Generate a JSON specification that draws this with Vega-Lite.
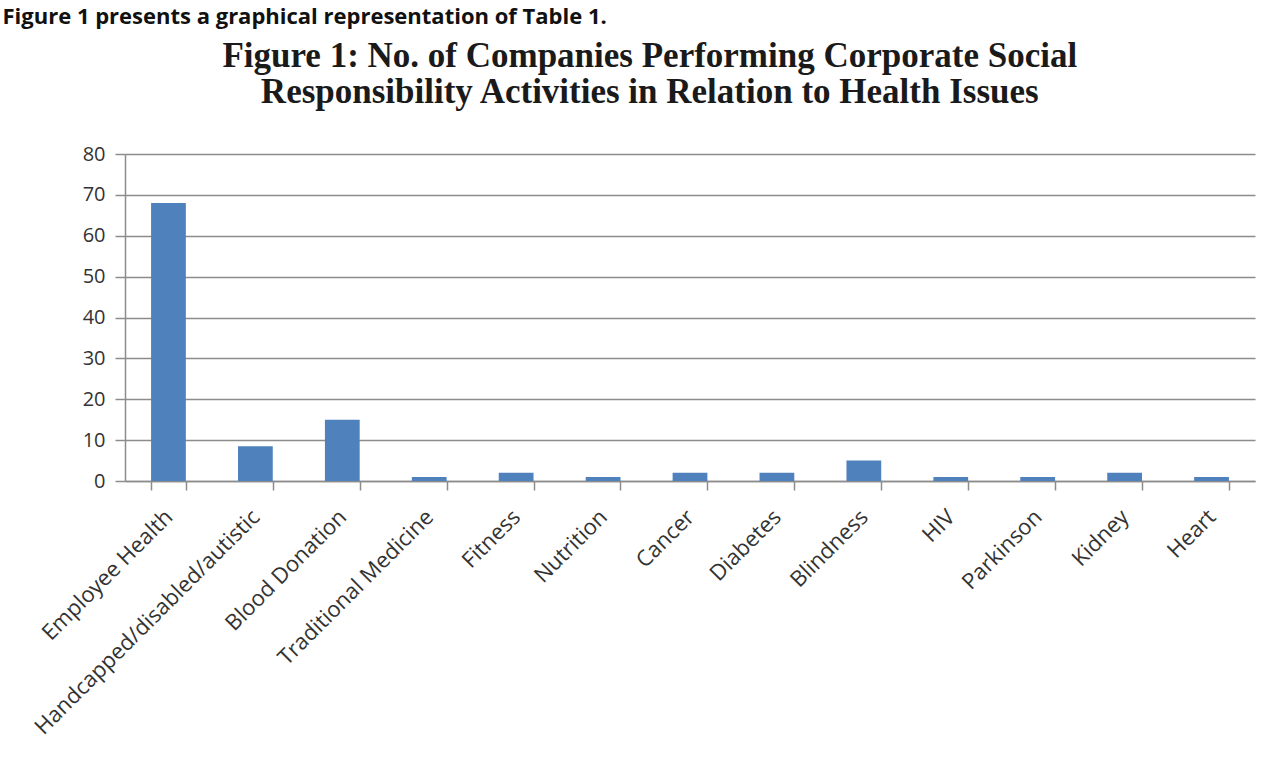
{
  "$schema": "https://vega.github.io/schema/vega-lite/v6.json",
  "padding": {"left": 2, "top": 6, "right": 19, "bottom": 0},
  "background": "white",
  "title": {
    "text": "Figure 1 presents a graphical representation of Table 1.",
    "anchor": "start",
    "frame": "bounds",
    "font": "Open Sans",
    "fontSize": 22,
    "fontWeight": "bold",
    "color": "#111111",
    "dx": -28,
    "offset": 10
  },
  "config": {
    "view": {"stroke": null},
    "axis": {"labelFont": "Open Sans", "labelFontSize": 20, "labelColor": "#333333"}
  },
  "vconcat": [
    {
      "width": 1130,
      "height": 327,
      "title": {
        "text": ["Figure 1: No. of Companies Performing Corporate Social", "Responsibility Activities in Relation to Health Issues"],
        "anchor": "middle",
        "frame": "bounds",
        "font": "Liberation Serif",
        "fontSize": 35,
        "fontWeight": "bold",
        "color": "#1a1a1a",
        "lineHeight": 36,
        "dx": 7,
        "offset": 34
      },
      "data": {
        "values": [
          {"issue": "Employee Health", "count": 68},
          {"issue": "Handcapped/disabled/autistic", "count": 8.5},
          {"issue": "Blood Donation", "count": 15},
          {"issue": "Traditional Medicine", "count": 1},
          {"issue": "Fitness", "count": 2},
          {"issue": "Nutrition", "count": 1},
          {"issue": "Cancer", "count": 2},
          {"issue": "Diabetes", "count": 2},
          {"issue": "Blindness", "count": 5},
          {"issue": "HIV", "count": 1},
          {"issue": "Parkinson", "count": 1},
          {"issue": "Kidney", "count": 2},
          {"issue": "Heart", "count": 1}
        ]
      },
      "mark": {"type": "bar", "color": "#4F81BD"},
      "encoding": {
        "x": {
          "field": "issue",
          "type": "nominal",
          "sort": null,
          "scale": {"paddingInner": 0.6, "paddingOuter": 0.3},
          "axis": {
            "title": null,
            "labelAngle": -45,
            "labelPadding": 16,
            "labelOffset": -7,
            "labelFontSize": 22,
            "labelLimit": 500,
            "tickBand": "extent",
            "tickSize": 9,
            "tickColor": "#8c8c8c",
            "tickWidth": 1.5,
            "domainColor": "#8c8c8c",
            "domainWidth": 1.5,
            "grid": false
          }
        },
        "y": {
          "field": "count",
          "type": "quantitative",
          "scale": {"domain": [0, 80]},
          "axis": {
            "title": null,
            "values": [0, 10, 20, 30, 40, 50, 60, 70, 80],
            "tickSize": 10,
            "tickColor": "#8c8c8c",
            "tickWidth": 1.5,
            "domainColor": "#8c8c8c",
            "domainWidth": 1.5,
            "gridColor": "#8c8c8c",
            "gridWidth": 1.5,
            "labelPadding": 10
          }
        }
      }
    }
  ]
}
